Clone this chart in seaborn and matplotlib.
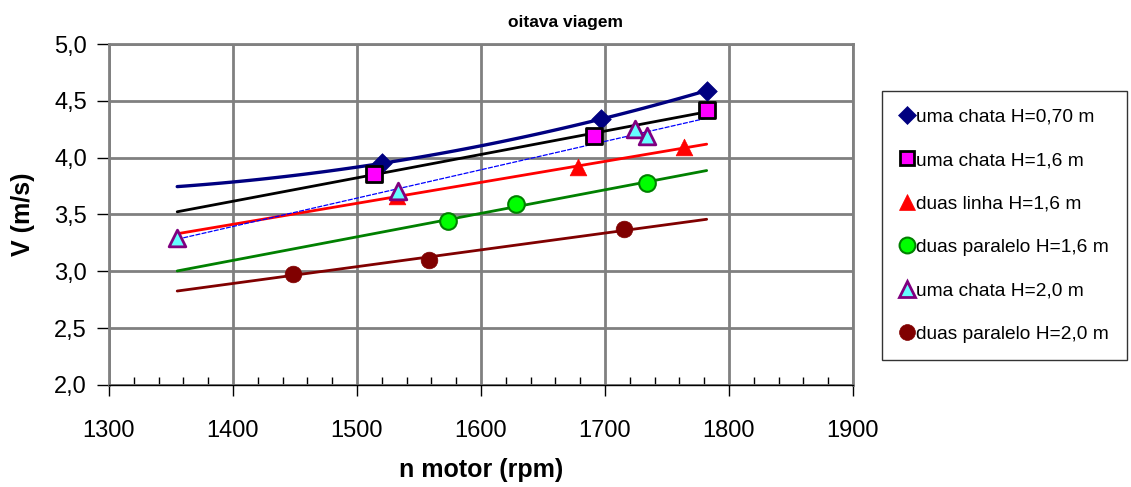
import numpy as np
import pandas as pd
import matplotlib
matplotlib.use("Agg")
import matplotlib.pyplot as plt
from matplotlib.ticker import FuncFormatter, MultipleLocator
import seaborn as sns

# Measured engine speed (rpm) and boat speed (m/s) for each configuration
rpm_chata_070 = [1520, 1697, 1782]
v_chata_070 = [3.95, 4.34, 4.59]

rpm_chata_16 = [1514, 1691, 1782]
v_chata_16 = [3.86, 4.19, 4.42]

rpm_linha_16 = [1532, 1678, 1764]
v_linha_16 = [3.66, 3.92, 4.09]

rpm_paralelo_16 = [1573, 1628, 1734]
v_paralelo_16 = [3.44, 3.59, 3.78]

rpm_chata_20 = [1355, 1533, 1724, 1734]
v_chata_20 = [3.29, 3.71, 4.25, 4.19]

rpm_paralelo_20 = [1448, 1558, 1715]
v_paralelo_20 = [2.98, 3.10, 3.37]

labels = [
    "uma chata H=0,70 m",
    "uma chata H=1,6 m",
    "duas linha H=1,6 m",
    "duas paralelo H=1,6 m",
    "uma chata H=2,0 m",
    "duas paralelo H=2,0 m",
]

series = [
    dict(x=rpm_chata_070, y=v_chata_070, deg=2, line="#000080", lw=2.4, ls="-",
         marker="D", ms=10, face="#000080", edge="#000080", mew=0.5),
    dict(x=rpm_chata_16, y=v_chata_16, deg=1, line="#000000", lw=2.0, ls="-",
         marker="s", ms=11, face="#FF00FF", edge="#000000", mew=2.0),
    dict(x=rpm_linha_16, y=v_linha_16, deg=1, line="#FF0000", lw=2.0, ls="-",
         marker="^", ms=12, face="#FF0000", edge="#FF0000", mew=0.5),
    dict(x=rpm_paralelo_16, y=v_paralelo_16, deg=1, line="#008000", lw=2.0, ls="-",
         marker="o", ms=12, face="#00FF00", edge="#008000", mew=1.5),
    dict(x=rpm_chata_20, y=v_chata_20, deg=1, line="#0000FF", lw=0.9, ls=(0, (4, 1)),
         marker="^", ms=12, face="#66FFFF", edge="#800080", mew=2.0),
    dict(x=rpm_paralelo_20, y=v_paralelo_20, deg=1, line="#800000", lw=2.0, ls="-",
         marker="o", ms=12, face="#800000", edge="#800000", mew=0.5),
]

sns.set_style("white")
plt.rcParams["font.family"] = ["Liberation Sans", "DejaVu Sans"]
plt.rcParams["text.color"] = "black"
plt.rcParams["axes.labelcolor"] = "black"
plt.rcParams["xtick.color"] = "black"
plt.rcParams["ytick.color"] = "black"

fig = plt.figure(figsize=(11.31, 4.87), dpi=100)
ax = fig.add_axes([109 / 1131, 1 - 385 / 487, (853 - 109) / 1131, (385 - 44) / 487])

all_rpm = np.concatenate([np.asarray(s["x"], float) for s in series])
x_fit = np.linspace(all_rpm.min(), all_rpm.max(), 60)

# Trend lines fitted to each configuration, over the common rpm range
for s in series:
    coef = np.polyfit(s["x"], s["y"], s["deg"])
    fit = pd.DataFrame({"rpm": x_fit, "v": np.polyval(coef, x_fit)})
    sns.lineplot(data=fit, x="rpm", y="v", ax=ax, color=s["line"],
                 linewidth=s["lw"], linestyle=s["ls"], zorder=3)

handles = []
for s, lab in zip(series, labels):
    df = pd.DataFrame({"rpm": s["x"], "v": s["y"]})
    sns.scatterplot(data=df, x="rpm", y="v", ax=ax, marker=s["marker"],
                    s=s["ms"] ** 2, color=s["face"], edgecolor=s["edge"],
                    linewidth=s["mew"], zorder=4)
    handles.append(plt.Line2D([], [], linestyle="none", marker=s["marker"],
                              markersize=s["ms"] * 0.95, markerfacecolor=s["face"],
                              markeredgecolor=s["edge"], markeredgewidth=s["mew"]))

ax.set_xlim(1300, 1900)
ax.set_ylim(2.0, 5.0)
ax.xaxis.set_major_locator(MultipleLocator(100))
ax.xaxis.set_minor_locator(MultipleLocator(20))
ax.yaxis.set_major_locator(MultipleLocator(0.5))
ax.yaxis.set_major_formatter(FuncFormatter(lambda v, p: f"{v:.1f}".replace(".", ",")))

ax.grid(True, which="major", color="#808080", linewidth=2.0)
ax.set_axisbelow(True)
for side in ("top", "right", "left"):
    ax.spines[side].set_color("#808080")
    ax.spines[side].set_linewidth(2.0)
ax.spines["bottom"].set_color("#000000")
ax.spines["bottom"].set_linewidth(1.0)

ax.tick_params(axis="x", which="major", direction="out", length=8, width=1,
               color="black", labelcolor="black", labelsize=17, pad=17, bottom=True)
ax.tick_params(axis="x", which="minor", direction="in", length=6, width=1,
               color="black", bottom=True)
ax.tick_params(axis="y", which="major", direction="out", length=9, width=1,
               color="black", labelcolor="black", labelsize=17, pad=7, left=True)

ax.set_xlabel("n motor (rpm)", fontsize=18, fontweight="bold", labelpad=12,
              color="black")
ax.set_ylabel("V (m/s)", fontsize=18, fontweight="bold", labelpad=14,
              color="black")

fig.text(0.5, 1 - 22 / 487, "oitava viagem", ha="center", va="center",
         fontsize=12.5, fontweight="bold", color="black")

leg = fig.legend(handles, labels, loc="upper left",
                 bbox_to_anchor=(882 / 1131, 1 - 91 / 487),
                 frameon=True, fontsize=13.8, handlelength=0.8, handletextpad=0.1,
                 labelspacing=1.36, borderpad=0.9, borderaxespad=0.0,
                 fancybox=False, edgecolor="black", labelcolor="black")
leg.get_frame().set_linewidth(1.0)

fig.savefig("out.png", dpi=100)
